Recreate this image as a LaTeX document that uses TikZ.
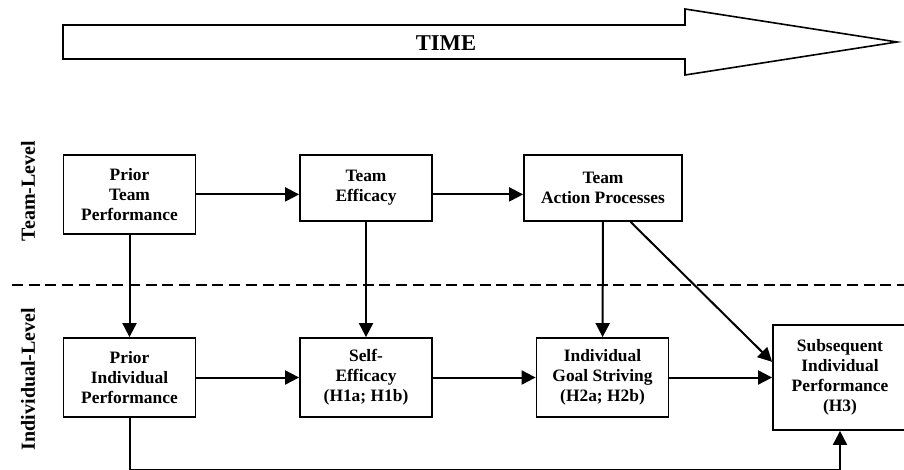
\documentclass[tikz,border=0pt]{standalone}
\usepackage{fontspec}
\setmainfont{Liberation Serif}
\usepackage{tikz}
\usetikzlibrary{arrows.meta}
\usetikzlibrary{positioning}

\tikzset{
  box/.style={draw, line width=1.8pt, align=center, inner sep=2pt,
    minimum width=132pt, minimum height=79pt,
    font=\fontsize{17.4}{20}\selectfont\bfseries},
  levellabel/.style={rotate=90, font=\fontsize{20}{22}\selectfont\bfseries}
}

\begin{document}
\begin{tikzpicture}[x=1pt, y=-1pt, >={Triangle[length=14pt,width=14pt]}, line width=2pt]
\useasboundingbox (0,0) rectangle (904,470);
% time arrow
\draw[line width=1.6pt] (63,25) -- (685,25) -- (685,9) -- (897,42) -- (685,75)
  -- (685,59) -- (63,59) -- cycle;
\node (T) [font=\fontsize{22.6}{24}\selectfont\bfseries] at (446,43) {TIME};
% levels
\draw[dash pattern=on 11pt off 5.7pt] (12,285) -- (904,285);
\node (TL) [levellabel] at (28,191) {Team-Level};
\node (IL) [levellabel] at (28,379) {Individual-Level};
% team row
\node (PTP) [box, anchor=north] at (129.5,154) {Prior\\Team\\Performance};
\node (TE) [box, anchor=north, minimum height=66pt] at (366,154) {Team\\Efficacy};
\node (TAP) [box, anchor=north, minimum height=66pt, minimum width=158pt] at (603,154) {Team\\Action Processes};
% individual row
\node (PIP) [box] at (129.5,377.5) {Prior\\Individual\\Performance};
\node (SE) [box, node distance=236.5pt, right of=PIP] {Self-\\Efficacy\\(H1a; H1b)};
\node (IGS) [box, node distance=236.5pt, right of=SE] {Individual\\Goal Striving\\(H2a; H2b)};
\node (Sub) [box, minimum width=134pt, minimum height=105pt] at (840,377.5) {Subsequent\\Individual\\Performance\\(H3)};
\draw[->] (PTP.east) -- (PTP.east -| TE.west);
\draw[->] (PTP.east -| TE.east) -- (PTP.east -| TAP.west);
\draw[->] (PTP) -- (PIP);
\draw[->] (TE) -- (SE);
\draw[->] (TAP) -- (IGS);
\draw[->] (TAP.-51) -- (Sub.167);
\draw[->] (PIP) -- (SE);
\draw[->] (SE) -- (IGS);
\draw[->] (IGS) -- (Sub);
\draw[->] (PIP.south) -- ++(0,52) -| (Sub.south);
\end{tikzpicture}
\end{document}
